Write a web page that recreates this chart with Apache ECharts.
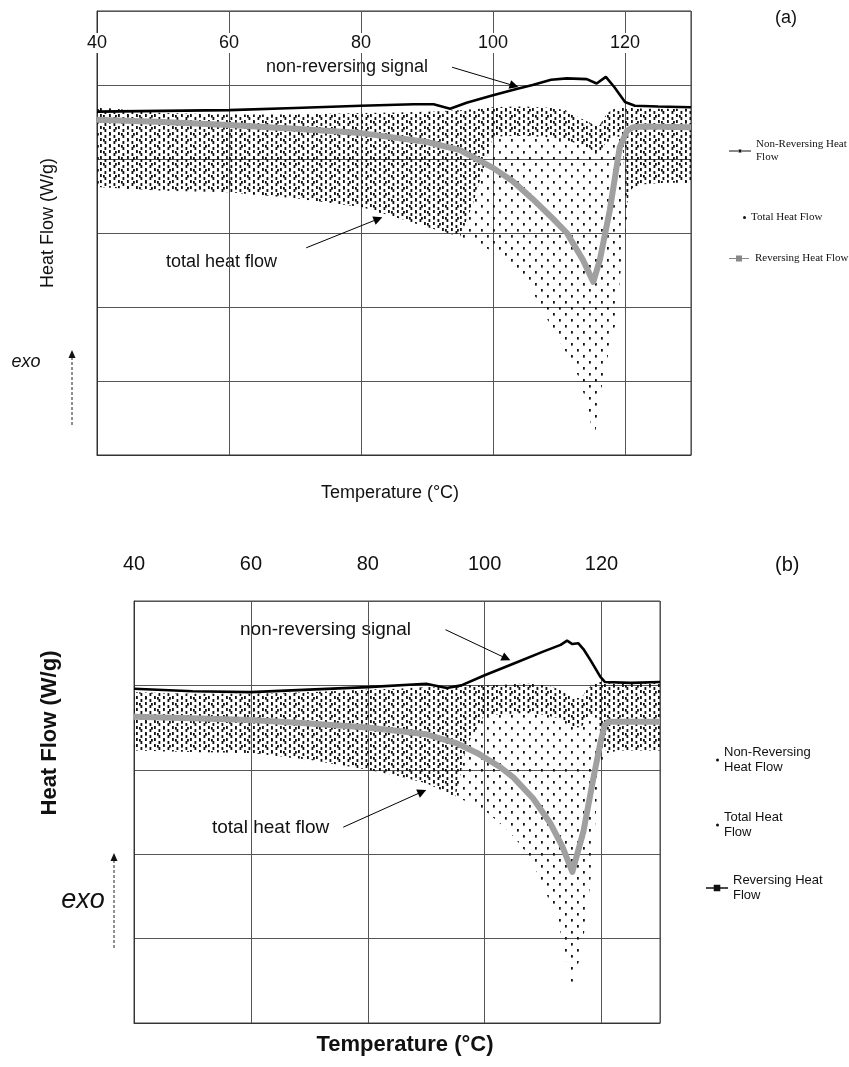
<!DOCTYPE html>
<html>
<head>
<meta charset="utf-8">
<title>MDSC heat flow (a) / (b)</title>
<script src="https://cdn.jsdelivr.net/npm/echarts@6/dist/echarts.min.js"></script>
<style>
  html, body { margin: 0; padding: 0; background: #fff; }
  #myChart { width: 849px; height: 1067px; }
</style>
</head>
<body>
<div id="myChart"></div>
<script>
// ---- panel (a) ----
var tempNonRevA = [40, 50, 60, 70, 80, 88, 91, 93.5, 96, 100, 103.7, 106, 108.8, 111.2, 114.2, 115.7, 117.1, 118.4, 120, 121.5, 125, 130]
var nonRevA = [4.64, 4.65, 4.66, 4.69, 4.72, 4.74, 4.74, 4.68, 4.76, 4.86, 4.95, 5.0, 5.07, 5.09, 5.08, 5.02, 5.11, 4.97, 4.77, 4.72, 4.71, 4.70]

var tempRevA = [40, 50, 60, 70, 80, 90, 95, 100, 103, 106, 109, 111.2, 113.6, 115.2, 116.2, 117.7, 119.2, 120.3, 121.2, 123, 130]
var revA = [4.53, 4.50, 4.46, 4.41, 4.35, 4.23, 4.12, 3.88, 3.70, 3.46, 3.20, 3.00, 2.64, 2.34, 2.64, 3.31, 4.16, 4.38, 4.43, 4.44, 4.43]

// total heat flow (modulated signal): envelope of the dot cloud
var tempTotA = [40, 50, 60, 70, 80, 85, 90, 95, 97, 100, 103, 105, 107, 109, 111, 113, 114.5, 115.3, 116.2, 117.3, 118.5, 119.5, 120.3, 121, 123, 126, 130]
var totUpperA = [4.70, 4.62, 4.60, 4.60, 4.62, 4.63, 4.64, 4.66, 4.67, 4.70, 4.71, 4.71, 4.70, 4.69, 4.66, 4.56, 4.50, 4.46, 4.46, 4.62, 4.68, 4.69, 4.69, 4.69, 4.68, 4.68, 4.68]
var totLowerA = [3.62, 3.57, 3.55, 3.47, 3.35, 3.22, 3.08, 2.95, 2.88, 2.75, 2.50, 2.35, 2.05, 1.70, 1.40, 1.05, 0.60, 0.15, 0.80, 1.30, 1.75, 2.60, 3.20, 3.60, 3.66, 3.68, 3.68]
var denseLowerA = [3.62, 3.57, 3.55, 3.47, 3.35, 3.22, 3.08, 2.95, 3.40, 4.30, 4.31, 4.31, 4.30, 4.29, 4.26, 4.20, 4.15, 4.10, 4.10, 4.25, 4.30, 4.30, 3.40, 3.60, 3.66, 3.68, 3.68]

// ---- panel (b) ----
var tempNonRevB = [40, 50, 60, 70, 80, 90, 93.5, 96, 100, 105, 110, 113, 114.1, 115, 116, 117, 118.1, 119.8, 120.6, 125, 130]
var nonRevB = [3.96, 3.93, 3.92, 3.95, 3.98, 4.02, 3.97, 4.00, 4.12, 4.26, 4.40, 4.48, 4.53, 4.49, 4.50, 4.42, 4.30, 4.10, 4.04, 4.03, 4.04]

var tempRevB = [40, 50, 60, 70, 80, 90, 95, 98.7, 102.7, 104.9, 108.3, 111.2, 113.3, 115, 116.9, 118.6, 119.8, 120.5, 121.2, 125, 130]
var revB = [3.63, 3.61, 3.59, 3.55, 3.50, 3.42, 3.32, 3.20, 3.03, 2.91, 2.66, 2.37, 2.09, 1.79, 2.27, 2.90, 3.32, 3.52, 3.57, 3.57, 3.57]

var tempTotB = [40, 50, 60, 70, 80, 85, 90, 95, 97, 100, 104, 106, 108, 110.5, 112.5, 114, 115, 116.5, 117.5, 118.6, 119.3, 120, 121, 123, 126, 130]
var totUpperB = [3.92, 3.90, 3.90, 3.92, 3.95, 3.96, 3.98, 3.99, 4.00, 4.00, 4.01, 4.02, 4.02, 4.00, 3.96, 3.90, 3.85, 3.85, 3.95, 4.02, 4.04, 4.04, 4.04, 4.04, 4.04, 4.04]
var totLowerB = [3.23, 3.21, 3.20, 3.12, 3.00, 2.93, 2.84, 2.68, 2.62, 2.52, 2.28, 2.12, 1.93, 1.54, 1.22, 0.75, 0.43, 0.83, 1.30, 2.00, 2.80, 3.08, 3.20, 3.23, 3.23, 3.23]
var denseLowerB = [3.23, 3.21, 3.20, 3.12, 3.00, 2.93, 2.84, 2.68, 3.30, 3.65, 3.66, 3.67, 3.67, 3.65, 3.61, 3.55, 3.50, 3.50, 3.60, 3.67, 3.69, 3.30, 3.20, 3.23, 3.23, 3.23]

var tempTicks = [40, 60, 80, 100, 120]

function pairs(xs, ys) { return xs.map(function (x, i) { return [x, ys[i]] }) }

// little tiles of dots used to fill the total heat flow cloud
function dotTile(w, h, rects) {
  var c = document.createElement('canvas')
  c.width = w; c.height = h
  var ctx = c.getContext('2d')
  ctx.fillStyle = '#111'
  rects.forEach(function (r) { ctx.fillRect(r[0], r[1], r[2], r[3]) })
  return { image: c, repeat: 'repeat' }
}
// staggered columns of short vertical dashes, like the sampled modulated signal
var denseDots = dotTile(9, 6, [[1, 0, 1.8, 3], [5.5, 3, 1.8, 3]])
var sparseDots = dotTile(12, 12, [[1, 1, 1.8, 2.6], [7, 7, 1.8, 2.6]])

var sans = 'Liberation Sans'
var serif = 'Liberation Serif'
var gridColor = '#555'

// dot cloud between an upper and a lower envelope, drawn through the axes with api.coord
function cloud(name, axisIndex, xs, top, bottom, fill) {
  return {
    name: name, type: 'custom', xAxisIndex: axisIndex, yAxisIndex: axisIndex, z: 1, silent: true,
    data: xs.map(function (x, i) { return [x, top[i], bottom[i]] }),
    encode: { x: 0, y: [1, 2] },
    itemStyle: { color: '#111' },
    renderItem: function (params, api) {
      if (params.dataIndex !== 0) return null
      var up = xs.map(function (x, i) { return api.coord([x, top[i]]) })
      var lo = xs.map(function (x, i) { return api.coord([x, bottom[i]]) }).reverse()
      return { type: 'polygon', shape: { points: up.concat(lo) }, style: { fill: fill } }
    }
  }
}

function arrows(list) {
  return {
    silent: true, symbol: ['none', 'triangle'], symbolSize: 9,
    label: { show: false },
    lineStyle: { color: '#000', width: 1, type: 'solid' },
    itemStyle: { color: '#000' },
    data: list.map(function (a) { return [{ coord: a[0] }, { coord: a[1] }] })
  }
}

function xAxisOf(gridIndex, fontSize, inside, margin) {
  return {
    type: 'value', gridIndex: gridIndex, position: 'top',
    min: 40, max: 130, interval: 20,
    axisLine: { show: true, lineStyle: { color: '#333' } },
    axisTick: { show: false },
    axisLabel: {
      inside: inside, margin: margin, fontSize: fontSize, fontFamily: sans, color: '#111',
      showMaxLabel: false, backgroundColor: inside ? '#fff' : 'transparent', padding: [1, 2],
      formatter: function (v) { return tempTicks.indexOf(v) >= 0 ? String(v) : '' }
    },
    splitLine: { show: true, lineStyle: { color: gridColor, width: 1 } }
  }
}

function yAxisOf(gridIndex, max) {
  return {
    type: 'value', gridIndex: gridIndex, min: 0, max: max, interval: 1,
    axisLabel: { show: false }, axisTick: { show: false },
    axisLine: { show: true, lineStyle: { color: '#333' } },
    splitLine: { show: true, lineStyle: { color: gridColor, width: 1 } }
  }
}

var iconLineDot = 'path://M0,4.4h9v1.2h-9z M9.5,3.5h3v3h-3z M13,4.4h9v1.2h-9z'
var iconLineSquare = 'path://M0,4.4h7v1.2h-7z M7,2h6v6h-6z M13,4.4h7v1.2h-7z'

function legendItem(name, icon, color, left, top, text, font, size, w, h) {
  return {
    data: [{ name: name, icon: icon, itemStyle: { color: color } }],
    left: left, top: top, orient: 'vertical', selectedMode: false, padding: 0,
    itemWidth: w, itemHeight: h,
    formatter: text,
    textStyle: { fontFamily: font, fontSize: size, lineHeight: size + 2, color: '#111' }
  }
}

function txt(text, x, y, size, opts) {
  opts = opts || {}
  return {
    type: 'text', x: x, y: y, rotation: opts.rotation || 0, silent: true,
    style: {
      text: text, fill: '#111', fontFamily: sans, fontSize: size,
      fontWeight: opts.bold ? 'bold' : 'normal', fontStyle: opts.italic ? 'italic' : 'normal',
      align: opts.align || 'left', verticalAlign: 'middle'
    }
  }
}

function exoArrow(x, yTop, yBottom) {
  return [
    { type: 'line', silent: true, shape: { x1: x, y1: yBottom, x2: x, y2: yTop + 6 },
      style: { stroke: '#222', lineWidth: 1, lineDash: [3, 2] } },
    { type: 'polygon', silent: true, shape: { points: [[x - 3.5, yTop + 8], [x + 3.5, yTop + 8], [x, yTop]] },
      style: { fill: '#111' } }
  ]
}

var myChart = echarts.init(document.getElementById('myChart'))

var option = {
  animation: false,
  backgroundColor: '#fff',
  grid: [
    { left: 97, top: 11, width: 594, height: 444, show: true, borderColor: '#333', borderWidth: 1, outerBoundsMode: 'none' },
    { left: 134, top: 601, width: 526, height: 422, show: true, borderColor: '#444', borderWidth: 1, outerBoundsMode: 'none' }
  ],
  xAxis: [xAxisOf(0, 18, true, 22), xAxisOf(1, 20, false, 26)],
  yAxis: [yAxisOf(0, 6), yAxisOf(1, 5)],
  legend: [
    legendItem('Non-Reversing Heat Flow', iconLineDot, '#111', 729, 138, 'Non-Reversing Heat\nFlow', serif, 11, 22, 5),
    legendItem('Total Heat Flow', 'circle', '#111', 743, 211, 'Total Heat Flow', serif, 11, 3, 3),
    legendItem('Reversing Heat Flow', iconLineSquare, '#888', 729, 252, 'Reversing Heat Flow', serif, 11, 22, 6),
    legendItem('Non-Reversing Heat Flow', 'circle', '#111', 716, 745, 'Non-Reversing\nHeat Flow', sans, 13, 3, 3),
    legendItem('Total Heat Flow', 'circle', '#111', 716, 810, 'Total Heat\nFlow', sans, 13, 3, 3),
    legendItem('Reversing Heat Flow', iconLineSquare, '#111', 706, 873, 'Reversing Heat\nFlow', sans, 13, 22, 7)
  ],
  graphic: { elements: [
    txt('(a)', 775, 18, 18),
    txt('(b)', 775, 565, 20),
    txt('non-reversing signal', 266, 67, 18),
    txt('total heat flow', 166, 262, 18),
    txt('Heat Flow (W/g)', 48, 223, 18, { rotation: Math.PI / 2, align: 'center' }),
    txt('exo', 26, 362, 18, { italic: true, align: 'center' }),
    txt('Temperature (°C)', 390, 493, 18, { align: 'center' }),
    txt('non-reversing signal', 240, 630, 19),
    txt('total heat flow', 212, 828, 19),
    txt('Heat Flow (W/g)', 50, 733, 22, { rotation: Math.PI / 2, align: 'center', bold: true }),
    txt('exo', 83, 900, 27, { italic: true, align: 'center' }),
    txt('Temperature (°C)', 405, 1045, 22, { align: 'center', bold: true })
  ].concat(exoArrow(72, 350, 425), exoArrow(114, 853, 948)) },
  series: [
    // (a)
    cloud('Total Heat Flow (a) sparse', 0, tempTotA, totUpperA, totLowerA, sparseDots),
    cloud('Total Heat Flow', 0, tempTotA, totUpperA, denseLowerA, denseDots),
    {
      name: 'Reversing Heat Flow', type: 'line', xAxisIndex: 0, yAxisIndex: 0, z: 4,
      data: pairs(tempRevA, revA), symbol: 'none', silent: true,
      itemStyle: { color: '#9a9a9a' },
      lineStyle: { color: '#a0a0a0', width: 6, join: 'round' }
    },
    {
      name: 'Non-Reversing Heat Flow', type: 'line', xAxisIndex: 0, yAxisIndex: 0, z: 5,
      data: pairs(tempNonRevA, nonRevA), symbol: 'none', silent: true,
      itemStyle: { color: '#000' },
      lineStyle: { color: '#000', width: 2.6 },
      markLine: arrows([[[93.8, 5.24], [103.2, 4.99]], [[71.7, 2.8], [82.6, 3.19]]])
    },
    // (b)
    cloud('Total Heat Flow (b) sparse', 1, tempTotB, totUpperB, totLowerB, sparseDots),
    cloud('Total Heat Flow', 1, tempTotB, totUpperB, denseLowerB, denseDots),
    {
      name: 'Reversing Heat Flow', type: 'line', xAxisIndex: 1, yAxisIndex: 1, z: 4,
      data: pairs(tempRevB, revB), symbol: 'none', silent: true,
      itemStyle: { color: '#9a9a9a' },
      lineStyle: { color: '#a0a0a0', width: 6, join: 'round' }
    },
    {
      name: 'Non-Reversing Heat Flow', type: 'line', xAxisIndex: 1, yAxisIndex: 1, z: 5,
      data: pairs(tempNonRevB, nonRevB), symbol: 'none', silent: true,
      itemStyle: { color: '#000' },
      lineStyle: { color: '#000', width: 2.6 },
      markLine: arrows([[[93.3, 4.66], [103.7, 4.32]], [[75.8, 2.32], [89.3, 2.74]]])
    }
  ]
}

myChart.setOption(option)
</script>
</body>
</html>
